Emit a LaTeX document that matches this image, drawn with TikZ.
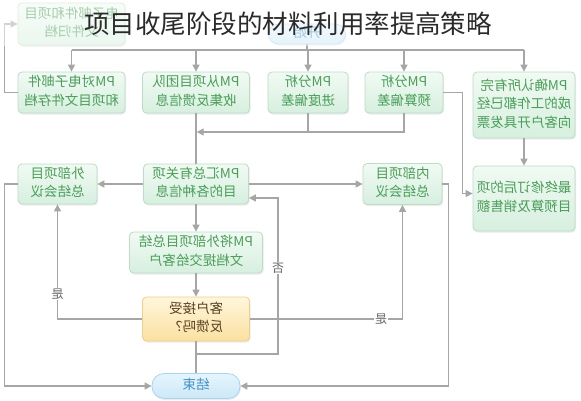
\documentclass[tikz,border=0pt]{standalone}
\usepackage{fontspec}
\setmainfont{Noto Sans CJK SC}
\usepackage{graphicx}
\usetikzlibrary{arrows.meta,shadows}
\definecolor{lncol}{HTML}{A6A6A6}
\definecolor{bxtop}{HTML}{F1FAF3}
\definecolor{bxbot}{HTML}{D6EFDF}
\definecolor{bxline}{HTML}{BCDCC6}
\definecolor{bxtext}{HTML}{4A9E58}
\definecolor{ytop}{HTML}{FFF6DC}
\definecolor{ybot}{HTML}{FBE0A0}
\definecolor{yline}{HTML}{EFCF8A}
\definecolor{ytext}{HTML}{5A4020}
\definecolor{btop}{HTML}{E6F5FC}
\definecolor{bbot}{HTML}{CBE8F7}
\definecolor{bline}{HTML}{A9D4EE}
\definecolor{btext}{HTML}{4590C6}
\definecolor{titlecol}{HTML}{2A2A2A}
\newcommand\mt[1]{\reflectbox{\fontsize{13.5}{18.5}\selectfont\begin{tabular}{@{}c@{}}#1\end{tabular}}}
\newcommand\ml[1]{\reflectbox{\fontsize{12}{14}\selectfont #1}}
\begin{document}
\begin{tikzpicture}[x=1pt,y=-1pt,
  ln/.style={draw=lncol, line width=1.3pt},
  arr/.style={ln, -{Triangle[length=7pt,width=7pt]}},
  gbox/.style={rounded corners=4pt, draw=bxline, line width=0.8pt, top color=bxtop, bottom color=bxbot, text=bxtext, inner sep=0pt, drop shadow={shadow xshift=1pt,shadow yshift=-1.5pt,opacity=0.15}},
  ybox/.style={gbox, draw=yline, top color=ytop, bottom color=ybot, text=ytext},
  bbox/.style={gbox, draw=bline, top color=btop, bottom color=bbot, text=btext},
  lbl/.style={fill=white, inner sep=1pt, text=black!60}]
\useasboundingbox (0,0) rectangle (581,400);
\fill[white] (0,0) rectangle (581,400);

\node[gbox, minimum width=107pt, minimum height=42pt] (TOP) at (71.5,24) {\mt{电子邮件和项目\\文件归档}};
\node[bbox, rounded corners=10pt, minimum width=77pt, minimum height=20pt] (S) at (307,34) {\mt{开始}};

\node[gbox, minimum width=107pt, minimum height=41pt] (A) at (71.5,92.5) {\mt{PM对电子邮件\\和项目文件存档}};
\node[gbox, minimum width=107pt, minimum height=41pt] (B) at (196,92.5) {\mt{PM从项目团队\\收集反馈信息}};
\node[gbox, minimum width=80pt, minimum height=41pt] (C) at (308,92.5) {\mt{PM分析\\进度偏差}};
\node[gbox, minimum width=78pt, minimum height=41pt] (D) at (404,92.5) {\mt{PM分析\\预算偏差}};
\node[gbox, minimum width=102pt, minimum height=66pt] (E) at (524,105) {\mt{PM确认所有完\\成的工作都已经\\向客户开具发票}};
\node[gbox, minimum width=102pt, minimum height=65pt] (F) at (524,198.5) {\mt{最终修订后的项\\目预算及销售额}};
\node[gbox, minimum width=105pt, minimum height=40pt] (G) at (196,184) {\mt{PM汇总有关项\\目的各种信息}};
\node[gbox, minimum width=79pt, minimum height=40pt] (H) at (57.5,184) {\mt{外部项目\\总结会议}};
\node[gbox, minimum width=79pt, minimum height=41pt] (I) at (402.5,184) {\mt{内部项目\\总结会议}};
\node[gbox, minimum width=133pt, minimum height=41pt] (J) at (196,252.5) {\mt{PM将外部项目总结\\文档提交给客户}};
\node[ybox, minimum width=107pt, minimum height=44pt] (K) at (196,319) {\mt{客户接受\\反馈吗？}};
\node[bbox, rounded corners=12pt, minimum width=88pt, minimum height=25pt] (L) at (196,386) {\mt{结束}};

\coordinate (bus) at (0,50);
\coordinate (mg) at (0,132);
\coordinate (nb) at (278,354);

% connectors
\draw[ln] (S.south) -- (S.south |- bus);
\draw[ln] (A.north |- bus) -- (E.north |- bus);
\foreach \n in {A,B,C,D,E} \draw[arr] (\n.north |- bus) -- (\n.north);
\draw[arr] (A.west) -- ++(-13,0) |- (TOP.west);
\draw[ln] (C.south) -- (C.south |- mg);
\draw[arr] (D.south) |- ([xshift=0.7pt]B.south |- mg);
\draw[ln] (B.south) -- (G.north);
\draw[arr] (D.east) -- ++(19,0) |- ([yshift=5pt]F.west);
\draw[arr] (E.south) -- (F.north);
\draw[arr] (G.west) -- (H.east);
\draw[arr] (G.east) -- (I.west);
\draw[arr] (G.south) -- (J.north);
\draw[arr] (J.south) -- (K.north);
\draw[arr] (K.west) -| node[lbl, pos=0.61] {\ml{是}} (H.south);
\draw[arr] (K.east) -| node[lbl, pos=0.43] {\ml{是}} (I.south);
\draw[ln] (K.south) -- (L.north);
\draw[arr] (K.south |- nb) -- (nb) -- node[lbl, pos=0.55] {\ml{否}} (nb |- 0,198) -- ([yshift=-14pt]G.east);
\draw[arr] (H.west) -- ++(-13,0) |- (L.west);
\draw[arr] (I.east) -- ++(6,0) |- (L.east);

% fade over the top band
\fill[white, opacity=0.5] (0,0) rectangle (581,46);
\node[font=\fontsize{25.5}{26}\selectfont, text=titlecol, inner sep=0pt] (T) at (288,24) {项目收尾阶段的材料利用率提高策略};
\end{tikzpicture}
\end{document}
